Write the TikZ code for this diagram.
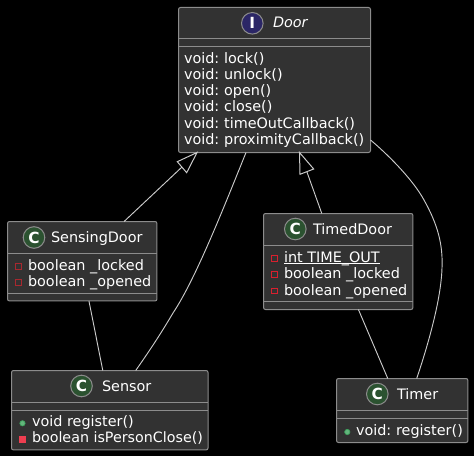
\documentclass[tikz,border=0pt]{standalone}
\usepackage{fontspec}
\setmainfont{DejaVu Sans}
\usetikzlibrary{calc}
\definecolor{boxfill}{HTML}{323232}
\definecolor{boxline}{HTML}{8C8C8C}
\definecolor{linkc}{HTML}{CACACA}
\definecolor{ifill}{HTML}{2B2666}
\definecolor{cfill}{HTML}{2B5230}
\definecolor{pubg}{HTML}{3DA35C}
\definecolor{privd}{HTML}{A8282F}
\definecolor{privb}{HTML}{D8202E}
\definecolor{privf}{HTML}{EE3E50}
\newcommand{\tightsp}{\hspace{-1pt} }
\tikzset{
  x=0.75pt,y=-0.75pt,
  umlbox/.style={draw=boxline,fill=boxfill,line width=0.75pt,rounded corners=1.5pt,anchor=north west,inner sep=0pt,outer sep=0pt},
  rulel/.style={draw=boxline,line width=0.75pt},
  txt/.style={text=white,font=\fontsize{10.8pt}{12pt}\selectfont,anchor=base west,inner sep=0pt,outer sep=0pt},
  badge/.style={circle,draw=boxline,line width=0.75pt,minimum size=16.2pt,inner sep=0pt,text=white,font=\fontsize{11.5pt}{11.5pt}\selectfont\bfseries},
  cbadge/.style={badge,fill=cfill},
  ibadge/.style={badge,fill=ifill},
  link/.style={draw=linkc,line width=0.7pt},
  tri/.style={draw=linkc,line width=0.75pt,fill=black,line join=miter},
  privsq/.style={rectangle,draw=#1,line width=0.75pt,fill=boxfill,minimum size=4.2pt,inner sep=0pt},
  privfill/.style={rectangle,draw=privf,fill=privf,line width=0.5pt,minimum size=4.4pt,inner sep=0pt},
  pubdot/.style={circle,draw=pubg,fill=pubg!80!white,line width=0.5pt,minimum size=4pt,inner sep=0pt},
}
\begin{document}
\begin{tikzpicture}
\useasboundingbox[fill=black] (0,0) rectangle (474,456);

% Boxes
\node[umlbox,minimum width=144pt,minimum height=108.75pt] (door) at (178.5,7.5) {};
\draw[rulel] (door.west |- 0,39) -- (door.east |- 0,39);
\draw[rulel] (door.west |- 0,47) -- (door.east |- 0,47);
\node[ibadge] (doorb) at (252.3,23.3) {I};
\node[txt,font=\fontsize{10.8pt}{12pt}\selectfont\itshape] (doort) at (273,28) {Door};
\node[txt] (d1) at (184,63.5) {void:\tightsp lock()};
\node[txt] (d2) at (184,79.5) {void:\tightsp unlock()};
\node[txt] (d3) at (184,96) {void:\tightsp open()};
\node[txt] (d4) at (184,112) {void:\tightsp close()};
\node[txt] (d5) at (184,128) {void:\tightsp timeOutCallback()};
\node[txt] (d6) at (184,144) {void:\tightsp proximityCallback()};

\node[umlbox,minimum width=112.1pt,minimum height=59.6pt] (sensing) at (7.5,221.5) {};
\draw[rulel] (sensing.west |- 0,253) -- (sensing.east |- 0,253);
\draw[rulel] (sensing.west |- 0,293) -- (sensing.east |- 0,293);
\node[cbadge] (sensingb) at (34,237.5) {C};
\node[txt] (sensingt) at (51,242.3) {SensingDoor};
\node[privsq=privd] (s1i) at (18.5,266.3) {};
\node[privsq=privd] (s2i) at (18.5,282.3) {};
\node[txt] (s1) at (28,270) {boolean \_locked};
\node[txt] (s2) at (28,286) {boolean \_opened};

\node[umlbox,minimum width=147.4pt,minimum height=59.6pt] (sensor) at (11.5,370.5) {};
\draw[rulel] (sensor.west |- 0,402) -- (sensor.east |- 0,402);
\draw[rulel] (sensor.west |- 0,410) -- (sensor.east |- 0,410);
\node[cbadge] (sensorb) at (81.5,386) {C};
\node[txt] (sensort) at (102,391) {Sensor};
\node[pubdot] (r1i) at (22.5,423.3) {};
\node[privfill] (r2i) at (22.5,439) {};
\node[txt] (r1) at (32,426.7) {void register()};
\node[txt,font=\fontsize{10.7pt}{12pt}\selectfont] (r2) at (32,442.7) {boolean isPersonClose()};

\node[umlbox,minimum width=112.1pt,minimum height=72pt] (timed) at (263.5,213.5) {};
\draw[rulel] (timed.west |- 0,245) -- (timed.east |- 0,245);
\draw[rulel] (timed.west |- 0,301) -- (timed.east |- 0,301);
\node[cbadge] (timedb) at (295.3,229) {C};
\node[txt] (timedt) at (313,234.3) {TimedDoor};
\node[privsq=privb] (t1i) at (274.5,258.5) {};
\node[privsq=privb] (t2i) at (274.5,274.5) {};
\node[privsq=privb] (t3i) at (274.5,291) {};
\node[txt] (t1) at (284,262) {int TIME\_OUT};
\draw[white,line width=0.75pt] (t1.base west |- 0,263.5) -- (t1.base east |- 0,263.5);
\node[txt] (t2) at (284,278) {boolean \_locked};
\node[txt] (t3) at (284,295) {boolean \_opened};

\node[umlbox,minimum width=98.6pt,minimum height=48pt] (timer) at (336.5,378.5) {};
\draw[rulel] (timer.west |- 0,410) -- (timer.east |- 0,410);
\draw[rulel] (timer.west |- 0,418) -- (timer.east |- 0,418);
\node[cbadge] (timerb) at (377.3,394) {C};
\node[txt] (timert) at (397,399) {Timer};
\node[pubdot] (m1i) at (347.3,432) {};
\node[txt] (m1) at (356,435) {void:\tightsp register()};

% Anchor points on the boxes
\coordinate (dSen) at ($(door.south west)!0.0964!(door.south east)$);
\coordinate (dTim) at ($(door.south west)!0.6302!(door.south east)$);
\coordinate (dSor) at ($(door.south west)!0.3516!(door.south east)$);
\coordinate (dTmr) at ($(door.south east)+(0,-12.5)$);
\coordinate (sTop) at ($(sensing.north west)!0.78!(sensing.north east)$);
\coordinate (sBot) at ($(sensing.south west)!0.545!(sensing.south east)$);
\coordinate (rTopA) at ($(sensor.north west)!0.4645!(sensor.north east)$);
\coordinate (rTopB) at ($(sensor.north west)!0.632!(sensor.north east)$);
\coordinate (tTop) at ($(timed.north west)!0.39!(timed.north east)$);
\coordinate (tBot) at ($(timed.south west)!0.635!(timed.south east)$);
\coordinate (mTopA) at ($(timer.north west)!0.39!(timer.north east)$);
\coordinate (mTopB) at ($(timer.north west)!0.61!(timer.north east)$);

% Connectors
\draw[link] (sTop) -- (182,167);
\draw[tri] (dSen) -- (177.3,161.7) -- (186.7,172.7) -- cycle;
\draw[link] (tTop) -- (306.8,171.6);
\draw[tri] (dTim) -- (300,174.3) -- (313.7,169) -- cycle;
\draw[link] (sBot) -- (rTopA);
\draw[link] (tBot) -- (mTopA);
\draw[link] (dSor) .. controls (222,212) and (195,280) .. (173,313)
                   .. controls (160,335) and (150,350) .. (rTopB);
\draw[link] (dTmr) .. controls (385,152) and (412,178) .. (424,200)
                   .. controls (438,225) and (443,245) .. (442,268)
                   .. controls (441,300) and (428,345) .. (mTopB);
\end{tikzpicture}
\end{document}
